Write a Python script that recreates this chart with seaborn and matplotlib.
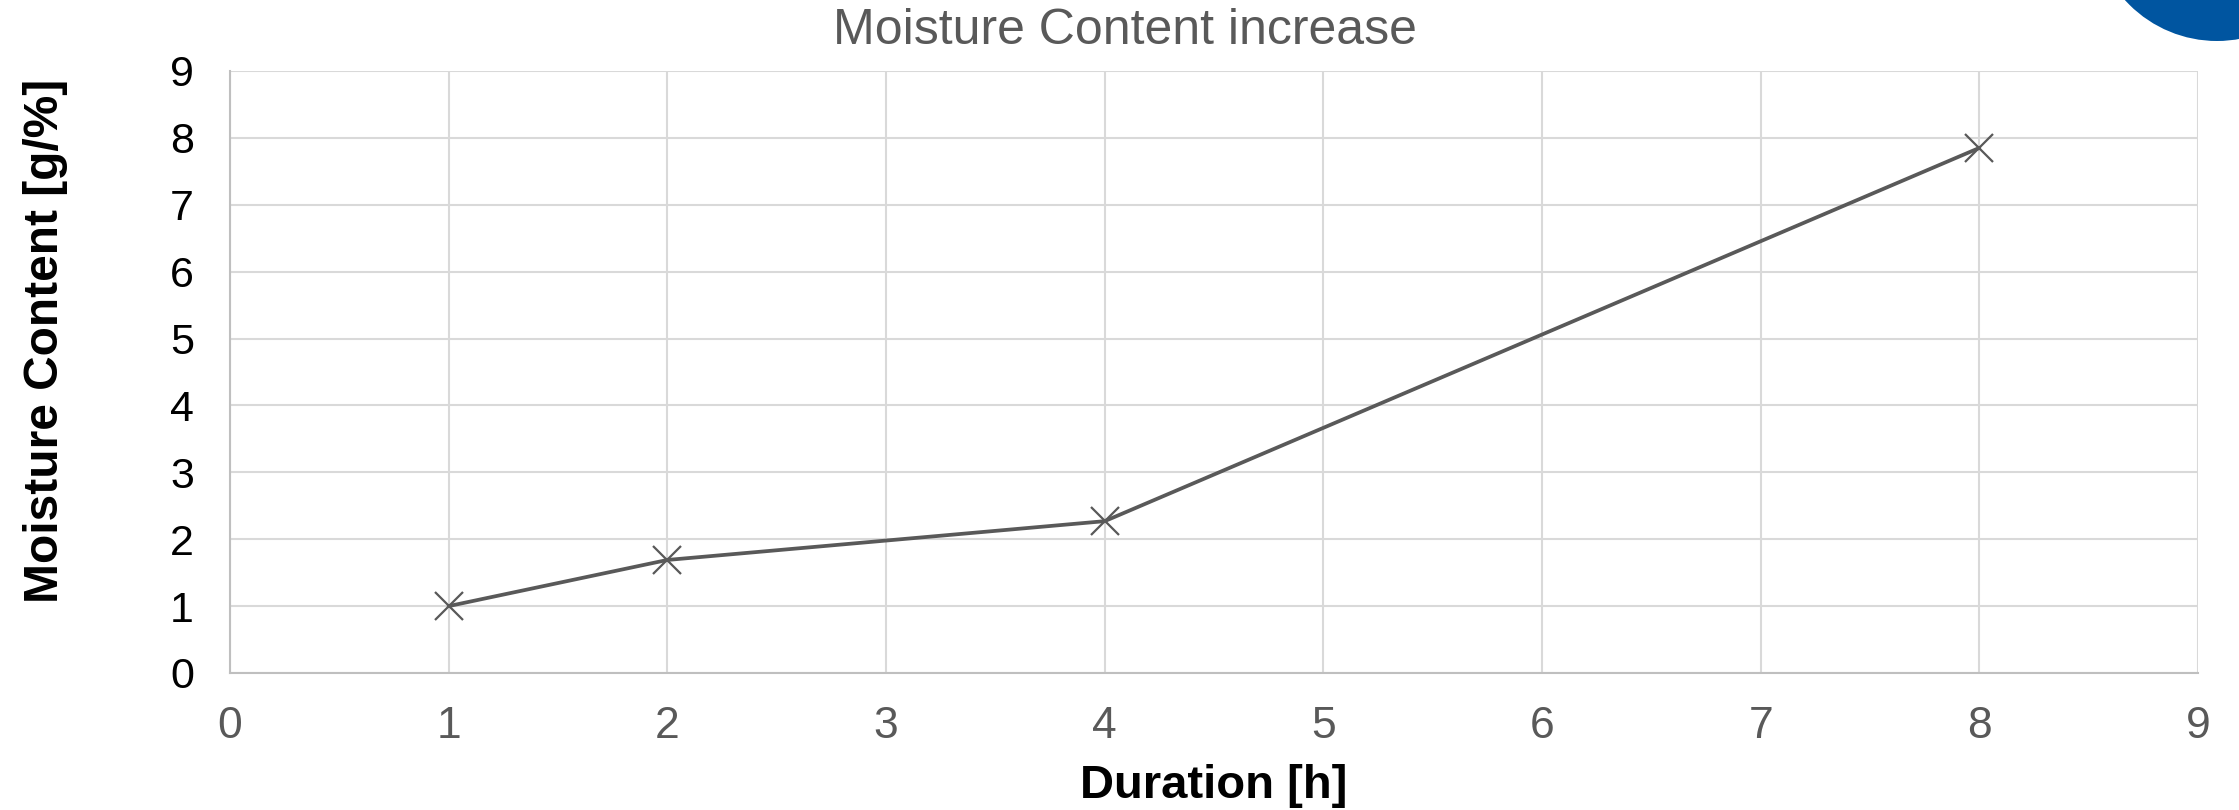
import matplotlib
matplotlib.use("Agg")
import matplotlib.pyplot as plt
import seaborn as sns
import pandas as pd
from matplotlib.patches import Ellipse

duration_h = [1, 2, 4, 8]
moisture = [1.0, 1.69, 2.27, 7.85]
x_ticks = list(range(0, 10))
y_ticks = list(range(0, 10))

sns.set_theme(style="white")
plt.rcParams['font.family'] = ['Liberation Sans', 'DejaVu Sans']

W, H = 2239, 810
fig = plt.figure(figsize=(W / 100, H / 100), dpi=100)
ax = fig.add_axes([230 / W, 1 - 673 / H, (2198 - 230) / W, (673 - 71) / H])

df = pd.DataFrame({"Duration": duration_h, "Moisture": moisture})
sns.lineplot(data=df, x="Duration", y="Moisture", ax=ax, color="#595959",
             linewidth=2.7, marker="x", markersize=20, markeredgewidth=1.6,
             markeredgecolor="#595959")

ax.set_xlim(0, 9)
ax.set_ylim(0, 9)
ax.set_xticks(x_ticks)
ax.set_yticks(y_ticks)
ax.grid(True, color="#d9d9d9", linewidth=1.5)
ax.set_axisbelow(True)
for s in ["top", "right"]:
    ax.spines[s].set_visible(False)
for s in ["left", "bottom"]:
    ax.spines[s].set_color("#bfbfbf")
    ax.spines[s].set_linewidth(1.5)

ax.tick_params(axis="x", length=0, pad=24, labelsize=32, labelcolor="#595959")
ax.tick_params(axis="y", length=0, pad=26, labelsize=31, labelcolor="#000000")

ax.set_xlabel("Duration [h]", fontsize=34, fontweight="bold", color="black", labelpad=12)
ax.set_ylabel("Moisture Content [g/%]", fontsize=34.5, fontweight="bold", color="black")
ax.yaxis.set_label_coords(-0.0825, 0.552)

fig.text(1125 / W, 1 - 44 / H, "Moisture Content increase", fontsize=36,
         color="#595959", ha="center", va="baseline")

# decorative blue circle in the top-right corner
circ = Ellipse((2217 / W, 1 + 83 / H), width=2 * 124 / W, height=2 * 124 / H,
               transform=fig.transFigure, facecolor="#0055a0", edgecolor="none")
fig.patches.append(circ)

fig.savefig("out.png", dpi=100)
